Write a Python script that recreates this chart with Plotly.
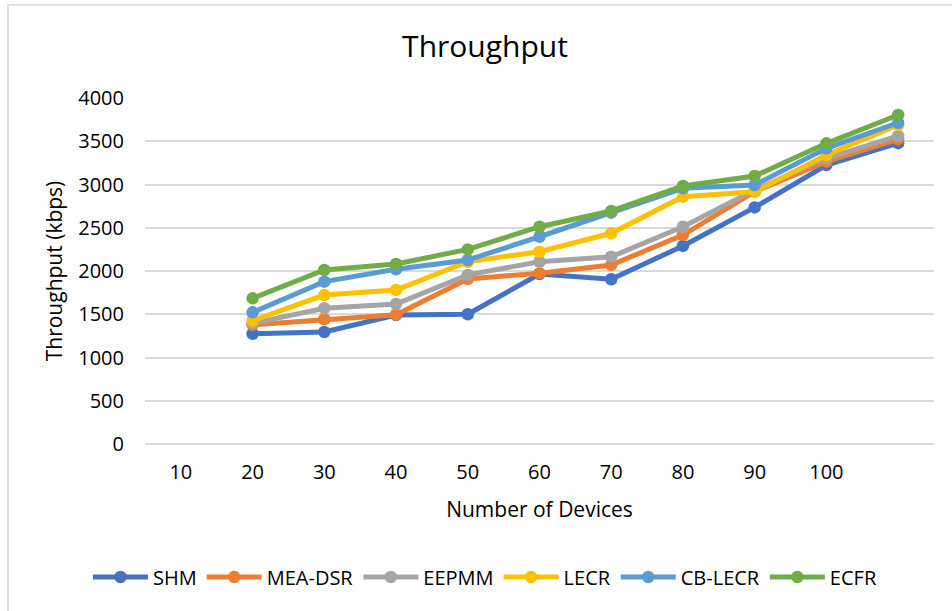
import plotly.graph_objects as go

tick_devices = [10, 20, 30, 40, 50, 60, 70, 80, 90, 100]
x_devices = [20, 30, 40, 50, 60, 70, 80, 90, 100, 110]

series_names = ["SHM", "MEA-DSR", "EEPMM", "LECR", "CB-LECR", "ECFR"]
shm = [1275, 1295, 1490, 1500, 1965, 1905, 2290, 2735, 3225, 3478]
mea_dsr = [1378, 1442, 1495, 1908, 1975, 2070, 2416, 2917, 3264, 3522]
eepmm = [1395, 1570, 1618, 1955, 2107, 2165, 2512, 2936, 3303, 3561]
lecr = [1426, 1722, 1780, 2107, 2223, 2436, 2859, 2917, 3341, 3688]
cb_lecr = [1522, 1877, 2020, 2127, 2396, 2674, 2956, 2994, 3418, 3714]
ecfr = [1684, 2012, 2081, 2250, 2512, 2694, 2983, 3098, 3476, 3803]
series_values = [shm, mea_dsr, eepmm, lecr, cb_lecr, ecfr]
colors = ["#4472C4", "#ED7D31", "#A5A5A5", "#FFC000", "#5B9BD5", "#70AD47"]

FONT = "Open Sans"

fig = go.Figure()
for name, vals, col in zip(series_names, series_values, colors):
    fig.add_trace(go.Scatter(
        x=x_devices, y=vals, name=name, mode="lines+markers",
        line=dict(color=col, width=5),
        marker=dict(color=col, size=12.5),
    ))

W, H = 952, 611
L, R, T, B = 145, 18, 98, 167
pw, ph = W - L - R, H - T - B

fig.update_layout(
    width=W, height=H,
    margin=dict(l=L, r=R, t=T, b=B),
    paper_bgcolor="white", plot_bgcolor="white",
    font=dict(family=FONT, color="#000000", size=20),
    title=dict(text="Throughput", x=(485 - L) / pw, xref="paper", xanchor="center",
               y=1 - 46 / H, yanchor="middle", font=dict(size=30, family=FONT, color="#000")),
    showlegend=True,
    legend=dict(orientation="h", x=(485 - L) / pw, xanchor="center",
                y=(444 - 577) / ph, yanchor="middle",
                font=dict(size=20, family=FONT), itemwidth=55, tracegroupgap=0),
    xaxis=dict(
        range=[5, 115], tickmode="array", tickvals=tick_devices,
        ticktext=[str(v) for v in tick_devices],
        showgrid=False, zeroline=False, showline=False, ticks="",
        ticklabelstandoff=14,
        title=dict(text="Number of Devices", standoff=18, font=dict(size=21)),
    ),
    yaxis=dict(
        range=[0, 4000], dtick=500, tick0=0,
        showgrid=True, gridcolor="#D9D9D9", gridwidth=1.5,
        zeroline=True, zerolinecolor="#D9D9D9", zerolinewidth=1.5,
        showline=False, ticks="", ticklabelstandoff=20,
        title=dict(text="Throughput (kbps)", standoff=9, font=dict(size=21)),
    ),
    shapes=[dict(type="rect", xref="paper", yref="paper",
                 x0=(8 - L) / pw, x1=1.1, y0=-0.6, y1=(444 - 5) / ph,
                 line=dict(color="#D9D9D9", width=1.5), fillcolor="rgba(0,0,0,0)",
                 layer="below")],
)

fig.write_html("out.html")
